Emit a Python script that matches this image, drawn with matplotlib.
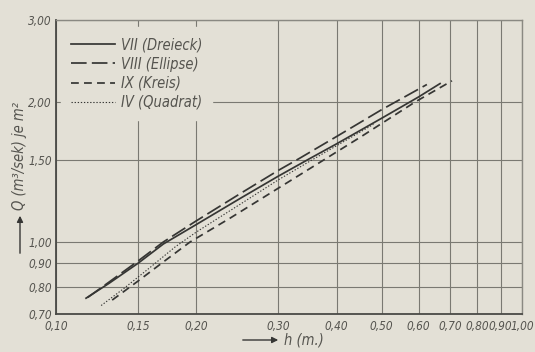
"""
plot.py
-------
Abfluss Q je m^2 ueber Hoehe h fuer vier Querschnittsformen (doppelt-logarithmisch).
"""

import matplotlib
matplotlib.use("Agg")
import matplotlib.pyplot as plt
from matplotlib import font_manager
from matplotlib.ticker import FixedLocator, NullLocator

# ---- Daten ----
h_dreieck = [0.116, 0.13, 0.15, 0.17, 0.20, 0.25, 0.30, 0.35, 0.40, 0.50, 0.60, 0.667]
q_dreieck = [0.757, 0.815, 0.90, 0.99, 1.09, 1.245, 1.385, 1.51, 1.625, 1.845, 2.05, 2.19]

h_ellipse = [0.117, 0.13, 0.15, 0.17, 0.20, 0.25, 0.30, 0.334, 0.40, 0.50, 0.625]
q_ellipse = [0.76, 0.82, 0.91, 1.0, 1.11, 1.275, 1.425, 1.515, 1.685, 1.925, 2.18]

h_kreis = [0.132, 0.15, 0.17, 0.194, 0.236, 0.30, 0.374, 0.45, 0.59, 0.7075]
q_kreis = [0.75, 0.824, 0.906, 1.0, 1.124, 1.305, 1.497, 1.68, 2.0, 2.22]

h_quadrat = [0.125, 0.14, 0.16, 0.18, 0.20, 0.25, 0.30, 0.35, 0.40, 0.48]
q_quadrat = [0.73, 0.795, 0.885, 0.975, 1.05, 1.21, 1.36, 1.49, 1.61, 1.79]

labels = ["VII (Dreieck)", "VIII (Ellipse)", "IX (Kreis)", "IV (Quadrat)"]

x_ticks = [0.10, 0.15, 0.20, 0.30, 0.40, 0.50, 0.60, 0.70, 0.80, 0.90, 1.00]
y_ticks = [0.70, 0.80, 0.90, 1.00, 1.50, 2.00, 3.00]

# ---- Stil ----
PAPER = "#e3e0d6"
INK = "#363634"
GRID = "#7a7972"
TEXT = "#55544f"
FONT = dict(family="DejaVu Sans", style="italic", stretch="condensed")


def fmt(v: float) -> str:
    return f"{v:.2f}".replace(".", ",")


fig = plt.figure(figsize=(5.35, 3.52), dpi=100, facecolor=PAPER)
ax = fig.add_axes([56 / 535, 38 / 352, 466 / 535, 294 / 352], facecolor=PAPER)

ax.set_xscale("log")
ax.set_yscale("log")
ax.set_xlim(0.10, 1.00)
ax.set_ylim(0.70, 3.00)

ax.plot(h_dreieck, q_dreieck, color=INK, lw=1.25, label=labels[0])
ax.plot(h_ellipse, q_ellipse, color=INK, lw=1.25, linestyle=(0, (9, 3)), label=labels[1])
ax.plot(h_kreis, q_kreis, color=INK, lw=1.25, linestyle=(0, (4.5, 3)), label=labels[2])
ax.plot(h_quadrat, q_quadrat, color=INK, lw=0.8, linestyle=(0, (1.2, 1.6)), label=labels[3])

# Gitter
ax.xaxis.set_major_locator(FixedLocator(x_ticks))
ax.yaxis.set_major_locator(FixedLocator(y_ticks))
ax.xaxis.set_minor_locator(NullLocator())
ax.yaxis.set_minor_locator(NullLocator())
ax.set_xticklabels([fmt(v) for v in x_ticks], color=TEXT, fontsize=8.5, **FONT)
ax.set_yticklabels([fmt(v) for v in y_ticks], color=TEXT, fontsize=8.5, **FONT)
ax.tick_params(axis="x", length=0, pad=4)
ax.tick_params(axis="y", length=0, pad=3)
ax.grid(True, which="major", color=GRID, lw=0.8)
ax.set_axisbelow(True)

for side in ("left", "bottom"):
    ax.spines[side].set_color("#4a4a46")
    ax.spines[side].set_linewidth(1.3)
for side in ("top", "right"):
    ax.spines[side].set_color("#8a8982")
    ax.spines[side].set_linewidth(1.0)

leg = ax.legend(
    loc="upper left",
    bbox_to_anchor=(-0.005, 1.0),
    frameon=True,
    facecolor=PAPER,
    edgecolor=PAPER,
    framealpha=1.0,
    fancybox=False,
    handlelength=3.0,
    handletextpad=0.4,
    labelspacing=0.28,
    borderpad=0.7,
    prop=font_manager.FontProperties(size=10.5, **FONT),
)
for t in leg.get_texts():
    t.set_color(TEXT)

# Achsenbeschriftungen mit Pfeilen
fig.text(20, 352 - 156, "Q (m³/sek) je m²", transform=None, rotation=90,
         ha="center", va="center", color=TEXT, fontsize=10.5, **FONT)
ax.annotate("", xy=(20, 352 - 213), xytext=(20, 352 - 256), xycoords="figure pixels",
            textcoords="figure pixels",
            arrowprops=dict(arrowstyle="-|>", color=INK, lw=1.0, mutation_scale=9))
ax.annotate("", xy=(281, 12), xytext=(240, 12), xycoords="figure pixels",
            textcoords="figure pixels",
            arrowprops=dict(arrowstyle="-|>", color=INK, lw=1.0, mutation_scale=9))
fig.text(284, 12, "h (m.)", transform=None, ha="left", va="center",
         color=TEXT, fontsize=10.5, **FONT)

fig.savefig("out.png", dpi=100, facecolor=PAPER)
